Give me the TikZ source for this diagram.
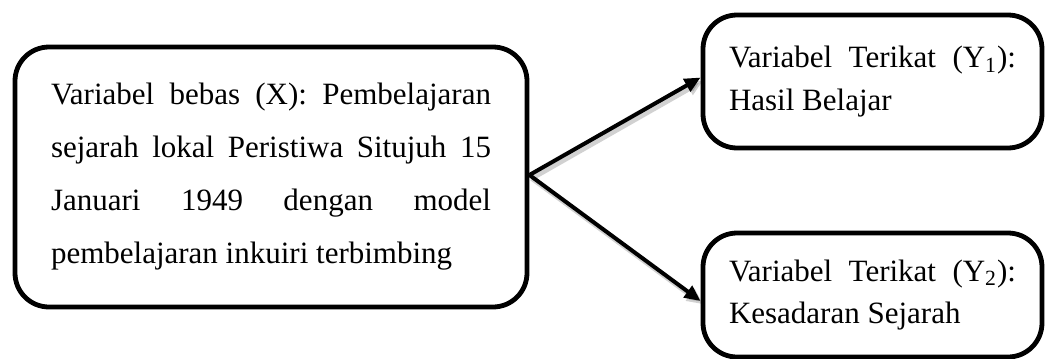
\documentclass[tikz,border=0pt]{standalone}
\usepackage{fontspec}
\setmainfont{Liberation Serif}
\usetikzlibrary{arrows.meta}
\begin{document}
\begin{tikzpicture}[x=0.5pt,y=-0.5pt,
  box/.style={draw=black, line width=2.4pt, rounded corners=17pt,
    inner sep=0pt, align=left},
  conn/.style={line width=2pt, -{Triangle[length=8pt,width=7pt]}},
  connshadow/.style={line width=2.6pt, draw=black, opacity=0.18,
    -{Triangle[length=8pt,width=7pt]}},
  bigtext/.style={font=\fontsize{15.5}{26.5}\selectfont},
  smalltext/.style={font=\fontsize{15.5}{21.3}\selectfont}]
\useasboundingbox (0,0) rectangle (1045,359);

% independent variable
\node[box, bigtext, minimum width=256pt, minimum height=130pt] (L) at (271,177)
  {\parbox{220pt}{\fontsize{15.5}{26.5}\selectfont
   Variabel bebas (X): Pembelajaran\linebreak
   sejarah lokal Peristiwa Situjuh 15\linebreak
   Januari 1949 dengan model\linebreak
   pembelajaran inkuiri terbimbing}};

% dependent variables
\node[box, smalltext, minimum width=169.5pt, minimum height=66.5pt] (T) at (872.5,81.5)
  {\parbox{143.5pt}{\fontsize{15.5}{21.3}\selectfont
   Variabel Terikat (Y\textsubscript{1}):\linebreak
   Hasil Belajar}};
\node[box, smalltext, minimum width=169.5pt, minimum height=62pt] (B) at (872.5,295)
  {\parbox{143.5pt}{\fontsize{15.5}{21.3}\selectfont
   Variabel Terikat (Y\textsubscript{2}):\linebreak
   Kesadaran Sejarah}};

% connectors with a faint drop shadow
\coordinate (S) at ([yshift=1pt]L.east);
\begin{scope}[transform canvas={shift={(1.2pt,-1.6pt)}}]
  \draw[connshadow] (S) -- ([yshift=2pt]T.west);
  \draw[connshadow] (S) -- ([yshift=-3pt]B.west);
\end{scope}
\draw[conn] (S) -- ([yshift=2pt]T.west);
\draw[conn] (S) -- ([yshift=-3pt]B.west);
\end{tikzpicture}
\end{document}
